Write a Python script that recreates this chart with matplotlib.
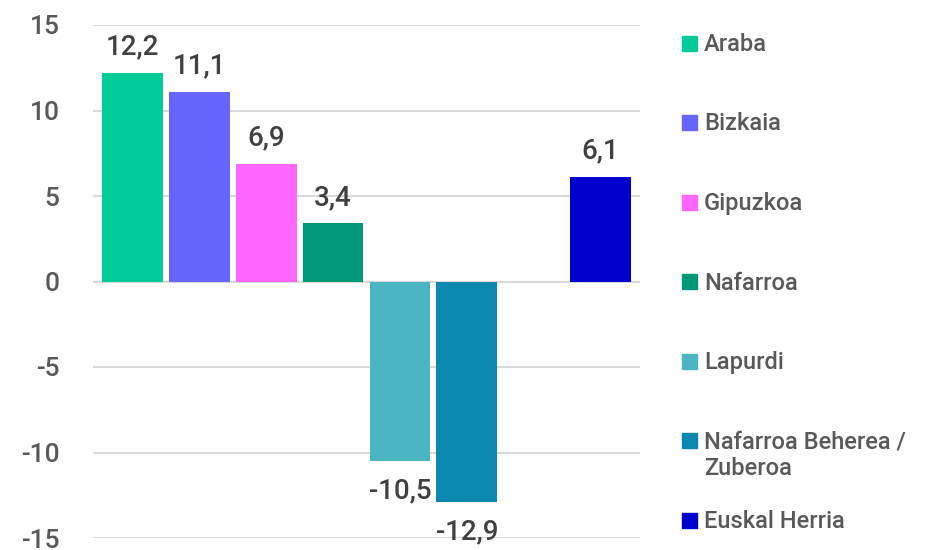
import matplotlib.pyplot as plt
from matplotlib.patches import Rectangle

plt.rcParams['font.family'] = ['Roboto', 'DejaVu Sans']

names = ['Araba', 'Bizkaia', 'Gipuzkoa', 'Nafarroa', 'Lapurdi',
         'Nafarroa Beherea /\nZuberoa', 'Euskal Herria']
values = [12.2, 11.1, 6.9, 3.4, -10.5, -12.9, 6.1]
slots = [0, 1, 2, 3, 4, 5, 7]
colors = ['#00CC99', '#6666FF', '#FF66FF', '#009977', '#4BB5C4', '#0A88B0', '#0000CC']
yticks = [-15, -10, -5, 0, 5, 10, 15]

W, H = 937, 550
fig = plt.figure(figsize=(W / 100, H / 100), dpi=100)
ax = fig.add_axes([93 / W, 1 - 538 / H, (640 - 93) / W, (538 - 25) / H])

bars = ax.bar(slots, values, width=0.91, color=colors, zorder=3)

for x, v in zip(slots, values):
    txt = f'{v:.1f}'.replace('.', ',')
    if v >= 0:
        ax.annotate(txt, (x, v), xytext=(0, 9), textcoords='offset points',
                    ha='center', va='bottom', fontsize=20, color='#404040',
                    fontweight='medium')
    else:
        ax.annotate(txt, (x, v), xytext=(0, -12), textcoords='offset points',
                    ha='center', va='top', fontsize=20, color='#404040',
                    fontweight='medium')

ax.set_ylim(-15, 15)
ax.set_xlim(-0.59, 7.59)
ax.set_yticks(yticks)
ax.set_yticklabels([str(t) for t in yticks], fontsize=19, color='#595959',
                   fontweight='medium')
ax.set_xticks([])
ax.tick_params(axis='y', length=0, pad=24)
ax.grid(axis='y', color='#d9d9d9', linewidth=1.5, zorder=0)
for s in ax.spines.values():
    s.set_visible(False)

# legend, one row per series
for i, (name, c) in enumerate(zip(names, colors)):
    yc = 43 + i * 79.5
    fig.patches.append(Rectangle((682 / W, 1 - (yc + 7.5) / H), 15 / W, 15 / H,
                                 color=c, transform=fig.transFigure))
    fig.text(704 / W, 1 - (yc - 10) / H, name, fontsize=17, color='#595959',
             va='top', ha='left', linespacing=1.2, fontweight='medium')

fig.savefig('out.png', dpi=100)
